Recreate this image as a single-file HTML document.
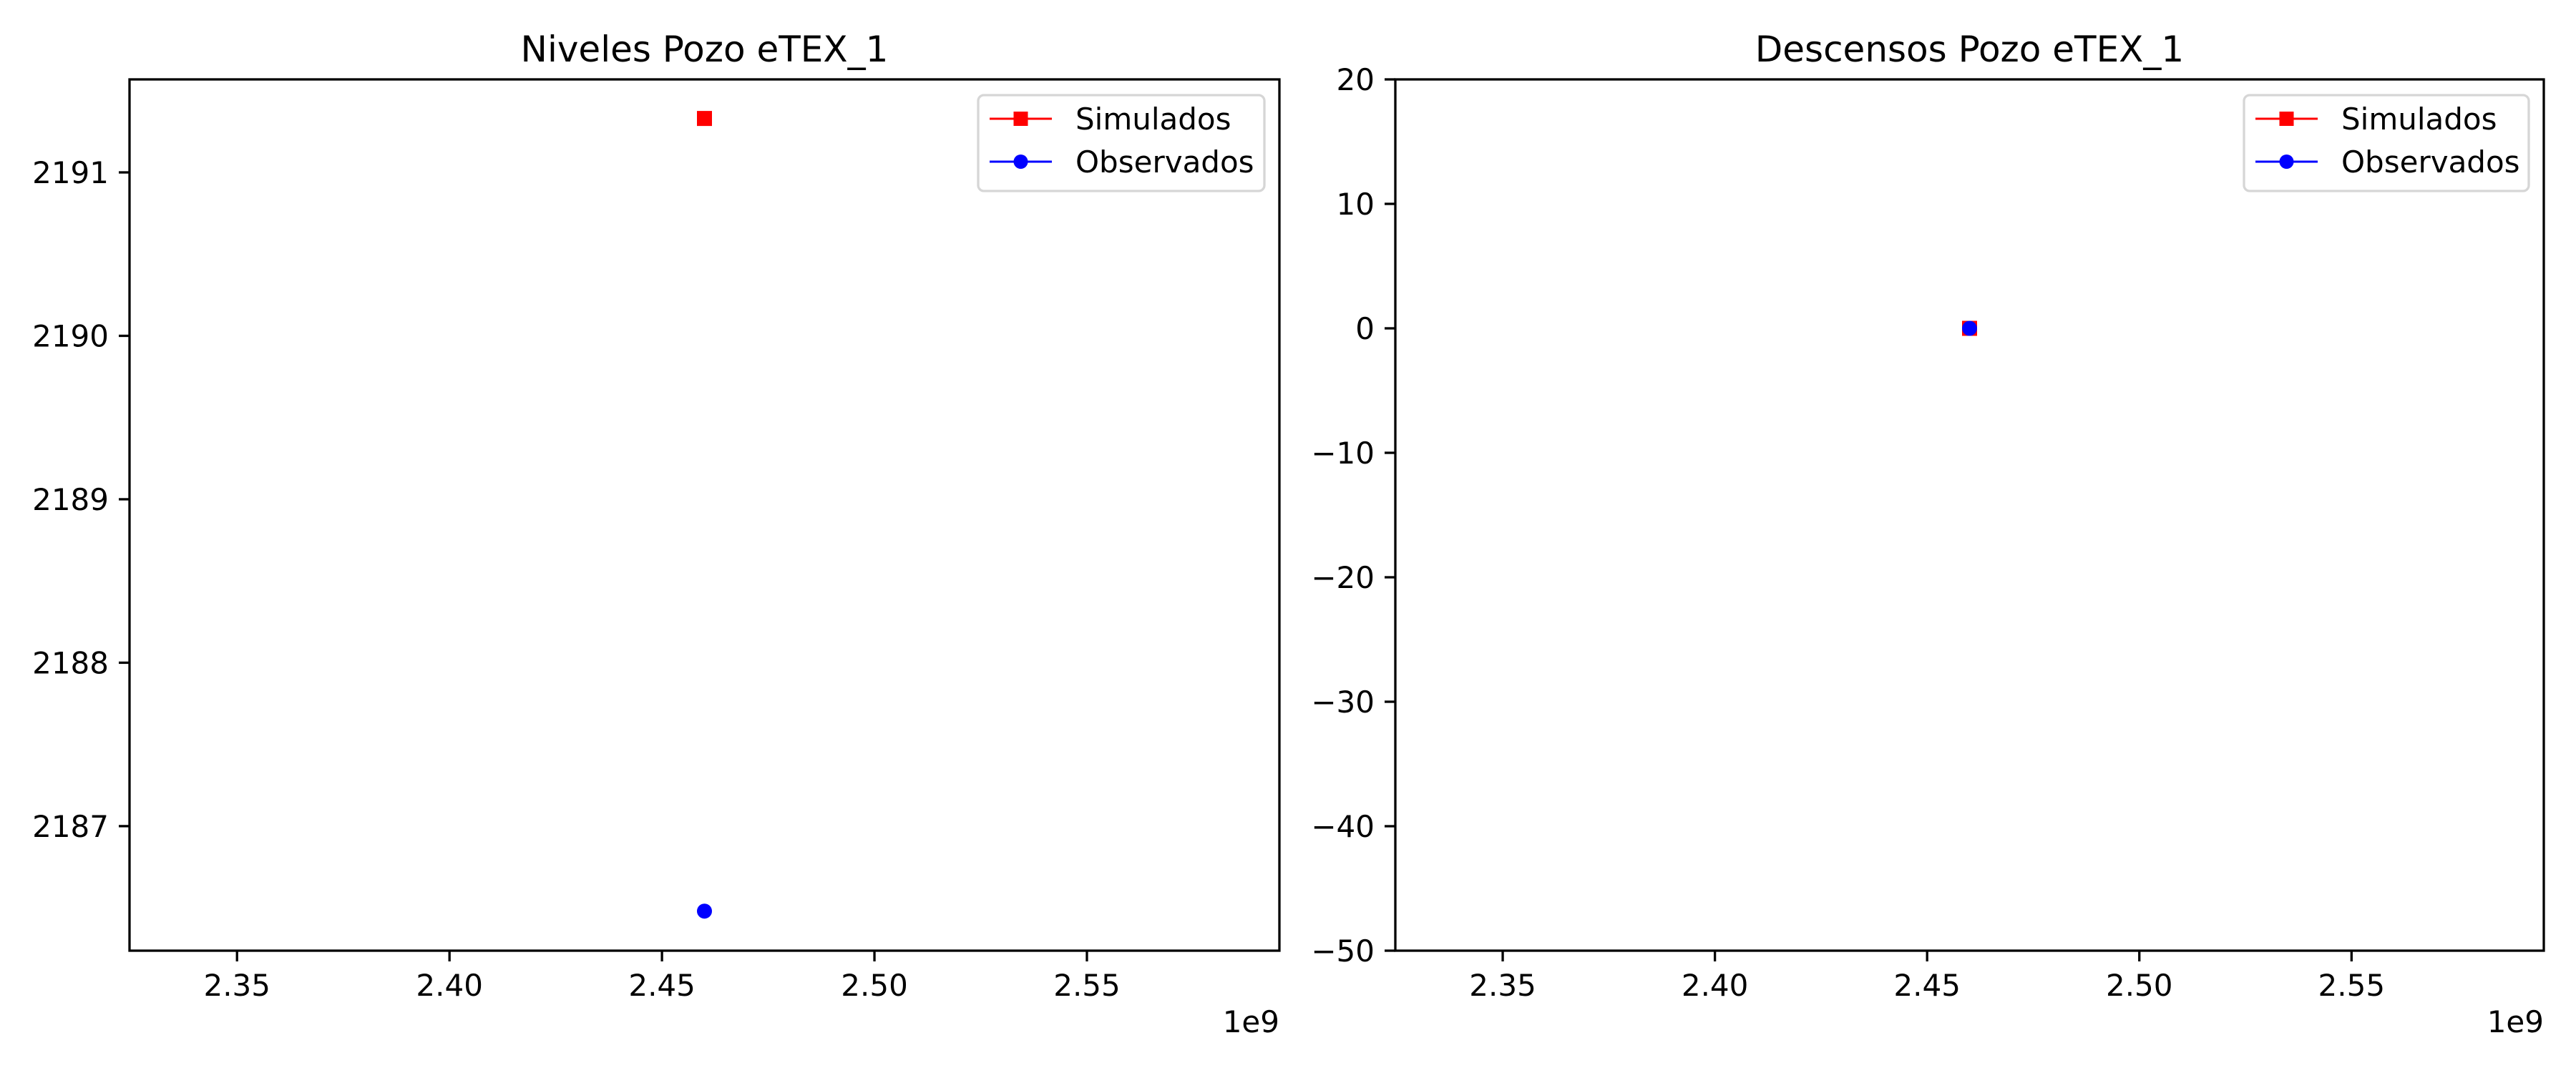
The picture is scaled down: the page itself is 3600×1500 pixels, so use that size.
<!DOCTYPE html>
<html><head><meta charset="utf-8"><style>
html,body{margin:0;padding:0;background:#fff}
svg{display:block}
text{font-family:"DejaVu Sans","Liberation Sans",sans-serif;fill:#000}
</style></head><body>
<svg id="fig" width="3600" height="1500" viewBox="0 0 3600 1500" xmlns="http://www.w3.org/2000/svg"></svg>
<script>
const timeValues = [2.46e9];
const levelSimulated = [2191.33];
const levelObserved = [2186.48];
const drawdownSimulated = [0];
const drawdownObserved = [0];
const xTicks = [2.35e9, 2.40e9, 2.45e9, 2.50e9, 2.55e9];
const xTickLabels = ["2.35","2.40","2.45","2.50","2.55"];
const levelTicks = [2187, 2188, 2189, 2190, 2191];
const drawdownTicks = [-50, -40, -30, -20, -10, 0, 10, 20];
const seriesNames = ["Simulados", "Observados"];

const NS = "http://www.w3.org/2000/svg";
const fig = document.getElementById('fig');
function mk(tag, attrs, parent){const e=document.createElementNS(NS,tag);for(const k in attrs)e.setAttribute(k,attrs[k]);(parent||fig).appendChild(e);return e;}
function fmt(v){return v<0?'\u2212'+Math.abs(v):String(v);}

function panel(cfg){
  const g = mk('g',{});
  
  
  const L=cfg.left,R=cfg.right,T=111,B=1329;
  const sx=v=>L+(v-cfg.xmin)/(cfg.xmax-cfg.xmin)*(R-L);
  const sy=v=>B-(v-cfg.ymin)/(cfg.ymax-cfg.ymin)*(B-T);
  const t=mk('text',{x:(L+R)/2,y:86,'font-size':50,'text-anchor':'middle'},g);
  t.textContent=cfg.title;
  
  
  xTicks.forEach((v,i)=>{
    const x=sx(v);
    const tk=mk('line',{x1:x,x2:x,y1:B,y2:B+15,stroke:'#000','stroke-width':3.3},g);
    
    
    const tl=mk('text',{x:x,y:1392,'font-size':42,'text-anchor':'middle'},g);
    tl.textContent=xTickLabels[i];
    
    
  });
  cfg.yticks.forEach(v=>{
    const y=sy(v);
    const tk=mk('line',{x1:L-15,x2:L,y1:y,y2:y,stroke:'#000','stroke-width':3.3},g);
    
    
    const tl=mk('text',{x:L-29,y:y+15,'font-size':42,'text-anchor':'end'},g);
    tl.textContent=fmt(v);
    
    
  });
  const off=mk('text',{x:R,y:1443,'font-size':42,'text-anchor':'end'},g);
  off.textContent='1e9';
  
  
  // series
  const sl=cfg.sim.map((v,i)=>sx(timeValues[i])+','+sy(v)).join(' ');
  const ps=mk('polyline',{points:sl,fill:'none',stroke:'#f00','stroke-width':3},g);
  
  
  cfg.sim.forEach((v,i)=>{
    const m=mk('rect',{x:sx(timeValues[i])-10.5,y:sy(v)-10.5,width:21,height:21,fill:'#f00'},g);
    
    
  });
  const ol=cfg.obs.map((v,i)=>sx(timeValues[i])+','+sy(v)).join(' ');
  const po=mk('polyline',{points:ol,fill:'none',stroke:'#00f','stroke-width':3},g);
  
  
  cfg.obs.forEach((v,i)=>{
    const m=mk('circle',{cx:sx(timeValues[i]),cy:sy(v),r:10.5,fill:'#00f'},g);
    
    
  });
  const fr=mk('rect',{x:L,y:T,width:R-L,height:B-T,fill:'none',stroke:'#000','stroke-width':3.3},g);
  
  
  // legend
  const lg=mk('g',{},g);
  
  
  const lx=cfg.legendX;
  mk('rect',{x:lx,y:133,width:cfg.legendW,height:134,rx:8,fill:'#fff','fill-opacity':0.8,stroke:'#d6d6d6','stroke-width':3.3},lg);
  const colors=['#f00','#00f'];
  seriesNames.forEach((n,i)=>{
    const y=i===0?166:226;
    const e=mk('g',{},lg);
    
    
    mk('line',{x1:lx+16,x2:lx+103,y1:y,y2:y,stroke:colors[i],'stroke-width':3},e);
    if(i===0) mk('rect',{x:lx+49.5,y:y-10,width:20,height:20,fill:colors[i]},e);
    else mk('circle',{cx:lx+59.5,cy:y,r:10,fill:colors[i]},e);
    const tx=mk('text',{x:lx+136,y:y+15,'font-size':42},e);
    tx.textContent=n;
  });
}

panel({name:'levels-chart',title:'Niveles Pozo eTEX_1',left:181,right:1788,xmin:2.3247e9,xmax:2.5953e9,ymin:2186.238,ymax:2191.569,yticks:levelTicks,sim:levelSimulated,obs:levelObserved,legendX:1367,legendW:400});
panel({name:'drawdown-chart',title:'Descensos Pozo eTEX_1',left:1950,right:3555,xmin:2.3247e9,xmax:2.5953e9,ymin:-50,ymax:20,yticks:drawdownTicks,sim:drawdownSimulated,obs:drawdownObserved,legendX:3136,legendW:398});
</script>
</body></html>
